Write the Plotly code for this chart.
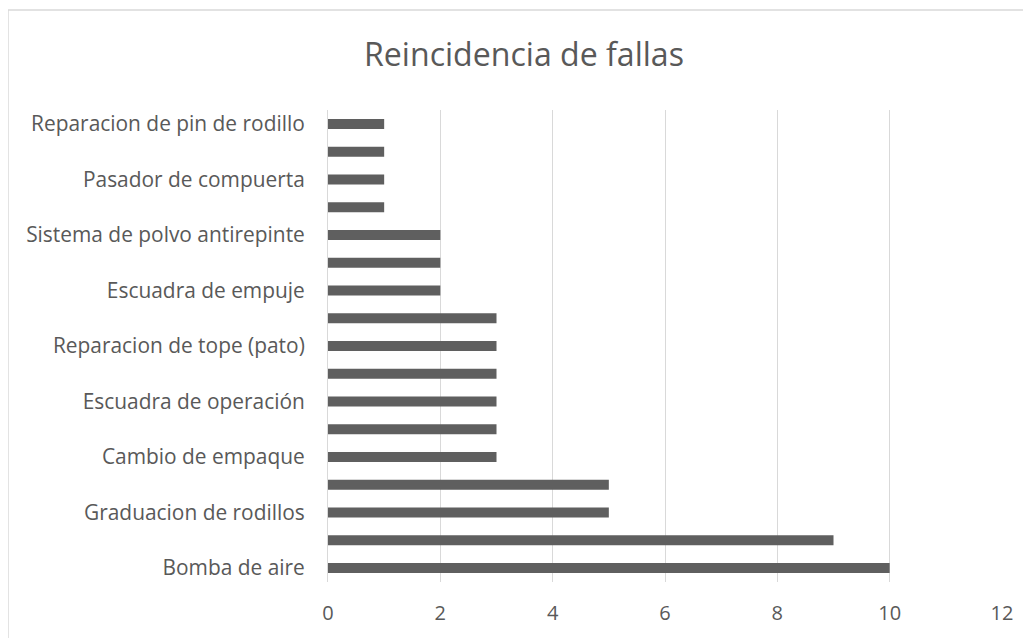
import plotly.graph_objects as go

# Categories from bottom to top (only every other label is shown on the axis)
categories = [
    "Bomba de aire",
    "Falla 2",
    "Graduacion de rodillos",
    "Falla 4",
    "Cambio de empaque",
    "Falla 6",
    "Escuadra de operación",
    "Falla 8",
    "Reparacion de tope (pato)",
    "Falla 10",
    "Escuadra de empuje",
    "Falla 12",
    "Sistema de polvo antirepinte",
    "Falla 14",
    "Pasador de compuerta",
    "Falla 16",
    "Reparacion de pin de rodillo",
]
values = [10, 9, 5, 5, 3, 3, 3, 3, 3, 3, 2, 2, 2, 1, 1, 1, 1]
shown_labels = categories[0::2]
x_ticks = [0, 2, 4, 6, 8, 10, 12]

TXT = "#595959"
FONT = "Open Sans"

fig = go.Figure(
    go.Bar(
        x=values,
        y=categories,
        orientation="h",
        marker=dict(color="#5f5f5f", line=dict(width=0)),
        width=0.36,
    )
)

fig.update_layout(
    width=1031,
    height=638,
    paper_bgcolor="white",
    plot_bgcolor="white",
    margin=dict(l=320, r=37, t=102, b=64),
    showlegend=False,
    title=dict(
        text="Reincidencia de fallas",
        x=0.5005,
        xanchor="center",
        y=0.926,
        yanchor="middle",
        font=dict(family=FONT, size=32.1, color=TXT),
    ),
    font=dict(family=FONT, color=TXT),
)

fig.update_xaxes(
    range=[0, 12],
    tickvals=x_ticks,
    showgrid=True,
    gridcolor="#d9d9d9",
    gridwidth=1,
    zeroline=False,
    showline=False,
    ticks="",
    tickfont=dict(family=FONT, size=20, color=TXT),
    ticklabelstandoff=17,
)

fig.update_yaxes(
    type="category",
    categoryorder="array",
    categoryarray=categories,
    tickvals=shown_labels,
    showgrid=False,
    showline=True,
    linecolor="#d9d9d9",
    linewidth=1,
    ticks="",
    tickfont=dict(family=FONT, size=20.9, color=TXT),
    ticklabelstandoff=18,
)

# outer chart border (cropped on right/bottom in reference)
fig.add_shape(
    type="rect",
    xref="paper", yref="paper",
    x0=-0.4748, x1=1.10, y0=-0.3, y1=1.2119,
    line=dict(color="#d9d9d9", width=1.5),
    fillcolor="rgba(0,0,0,0)",
    layer="below",
)

fig.write_html("out.html")
